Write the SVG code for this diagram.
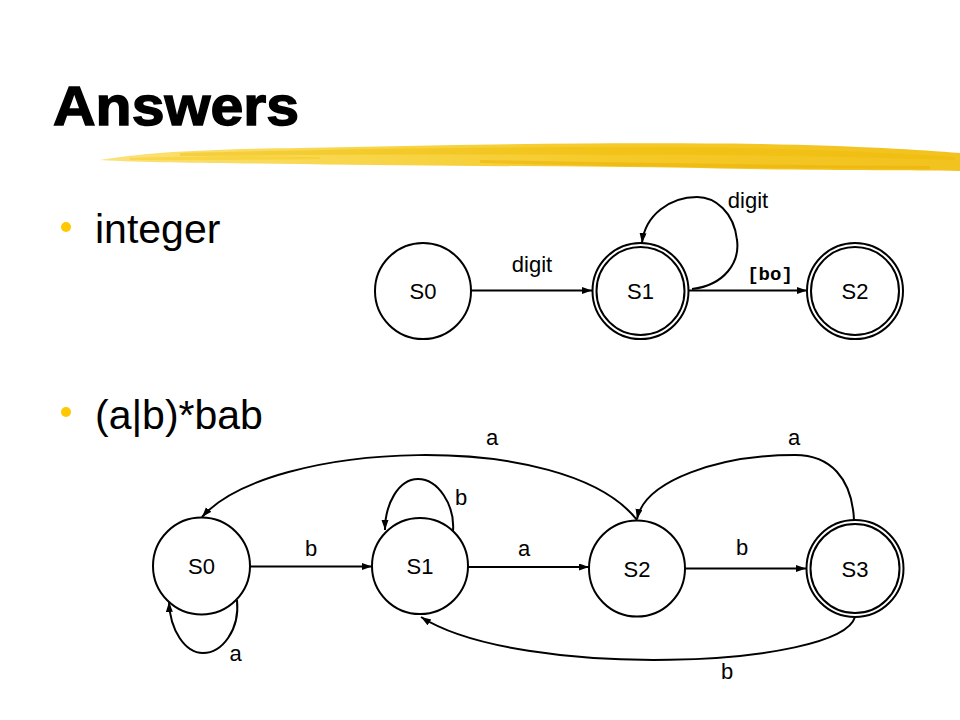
<svg xmlns="http://www.w3.org/2000/svg" width="960" height="720" viewBox="0 0 960 720">
<style>
.node{fill:#fff;stroke:#000;stroke-width:2}
.lbl{font-family:"Liberation Sans",Arial,sans-serif;font-size:22px;fill:#000;text-anchor:middle}
.edge{fill:none;stroke:#000;stroke-width:2;marker-end:url(#ah)}
.bul{font-family:"Liberation Sans",Arial,sans-serif;font-size:41px;fill:#000}
</style>
<defs>
<marker id="ah" markerUnits="userSpaceOnUse" markerWidth="11" markerHeight="8" refX="10" refY="3.5" orient="auto">
<path d="M0,0 L10,3.5 L0,7 z" fill="#000"/>
</marker>
<linearGradient id="brush" x1="0" y1="0" x2="1" y2="0">
<stop offset="0" stop-color="#FBE27A"/>
<stop offset="0.3" stop-color="#F8D64A"/>
<stop offset="0.6" stop-color="#F5C928"/>
<stop offset="1" stop-color="#F2C21E"/>
</linearGradient>
</defs>
<rect width="960" height="720" fill="#fff"/>
<text x="53" y="125" font-family="'Liberation Sans',Arial,sans-serif" font-size="56" font-weight="bold" stroke="#000" stroke-width="1.4" textLength="246" lengthAdjust="spacingAndGlyphs">Answers</text>
<g id="brushstroke">
<path d="M100,160 C140,153 200,149 300,148 C450,145 600,142 760,144 C860,146 920,150 960,153 L960,171 C900,170 820,171 700,168 C560,166 420,166 300,164 C220,163 150,163 100,160 z" fill="url(#brush)"/>
<path d="M180,153 C300,150 450,147 620,147 C750,147 850,150 955,157 L955,160 C850,157 740,154 620,155 C450,154 300,155 180,156 z" fill="#EDB800" opacity="0.4"/>
<path d="M480,160 C600,162 760,165 930,166 L930,169 C760,169 600,166 480,163 z" fill="#E8AE00" opacity="0.45"/>
<path d="M130,158 C200,156 260,156 320,157 L320,159 C260,160 200,160 130,160 z" fill="#F5C400" opacity="0.35"/>
</g>
<circle cx="66" cy="227" r="5" fill="#FFC800"/>
<text class="bul" x="95" y="243">integer</text>
<circle cx="66" cy="412" r="5" fill="#FFC800"/>
<text class="bul" x="95" y="429">(a|b)*bab</text>
<g id="connectors">
<path class="edge" d="M471,290.5 L592,290.5"/>
<path class="edge" d="M692,289 C725,285 740,262 737,240 C734,212 715,197 697,197 C670,197 645,215 642,243"/>
<path class="edge" d="M689,290.5 L807,290.5"/>
<path class="edge" d="M250,566.5 L372,566.5"/>
<path class="edge" d="M468,567 L589,567"/>
<path class="edge" d="M685,568.5 L806,568.5"/>
<path class="edge" d="M237,600 C240,630 222,653 203,653 C185,653 170,630 169,602"/>
<path class="edge" d="M453,531 C455,505 438,479 418,479 C398,479 385,505 385,530"/>
<path class="edge" d="M637,520 C565,428 270,440 202,517"/>
<path class="edge" d="M854,520 C852,478 830,455 795,455 C720,455 645,480 637,519"/>
<path class="edge" d="M855,617 C840,668 520,680 421,617"/>
<text class="lbl" x="532" y="272">digit</text>
<text class="lbl" x="748" y="208">digit</text>
<text x="770" y="280" font-family="'Liberation Mono','Courier New',monospace" font-size="19" font-weight="bold" text-anchor="middle">[bo]</text>
<text class="lbl" x="311" y="556">b</text>
<text class="lbl" x="524" y="556">a</text>
<text class="lbl" x="742" y="555">b</text>
<text class="lbl" x="235.5" y="661">a</text>
<text class="lbl" x="461" y="505">b</text>
<text class="lbl" x="492" y="445">a</text>
<text class="lbl" x="794" y="445">a</text>
<text class="lbl" x="727" y="679">b</text>
</g>
<g id="t_S0"><circle class="node" cx="423" cy="291" r="48"/><text class="lbl" x="423" y="299">S0</text></g>
<g id="t_S1"><circle class="node" cx="640.5" cy="291" r="48"/><circle class="node" cx="640.5" cy="291" r="44"/><text class="lbl" x="640.5" y="299">S1</text></g>
<g id="t_S2"><circle class="node" cx="855" cy="291" r="48"/><circle class="node" cx="855" cy="291" r="44"/><text class="lbl" x="855" y="299">S2</text></g>
<g id="b_S0"><circle class="node" cx="201.5" cy="566" r="48.5"/><text class="lbl" x="201.5" y="574">S0</text></g>
<g id="b_S1"><circle class="node" cx="420" cy="566" r="48"/><text class="lbl" x="420" y="574">S1</text></g>
<g id="b_S2"><circle class="node" cx="637" cy="568.5" r="48"/><text class="lbl" x="637" y="577">S2</text></g>
<g id="b_S3"><circle class="node" cx="855" cy="568.5" r="48.5"/><circle class="node" cx="855" cy="568.5" r="44.5"/><text class="lbl" x="855" y="577">S3</text></g>
</svg>
